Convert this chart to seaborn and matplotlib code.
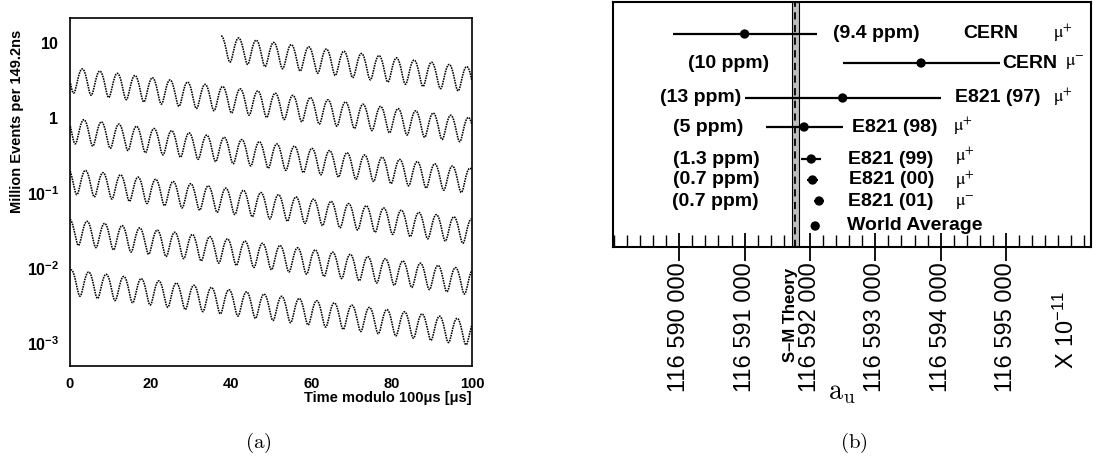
import matplotlib
matplotlib.use("Agg")
import matplotlib.pyplot as plt
import matplotlib.ticker as mticker
import numpy as np
import pandas as pd
import seaborn as sns

# (a) wiggle fit parameters
wiggle_n0 = 16.3          # million events per bin at t = 0
wiggle_tau = 64.4         # dilated muon lifetime [us]
wiggle_asym = 0.37
wiggle_period = 4.365     # g-2 precession period [us]
wiggle_first_peak = 37.6  # first plotted point sits on a peak [us]
t_stop = 600.0
bin_width = 0.1492        # 149.2 ns

ytick_vals = [10, 1, 0.1, 0.01, 0.001]
ytick_labels = [r"$\mathbf{10}$", r"$\mathbf{1}$", r"$\mathbf{10^{-1}}$",
                r"$\mathbf{10^{-2}}$", r"$\mathbf{10^{-3}}$"]
xtick_vals = [0, 20, 40, 60, 80, 100]

# (b) a_mu measurements (units of 1e-11)
experiments = ["CERN", "CERN", "E821 (97)", "E821 (98)", "E821 (99)",
               "E821 (00)", "E821 (01)", "World Average"]
charges = ["+", "\u2212", "+", "+", "+", "+", "\u2212", None]
a_mu = [116591000, 116593700, 116592500, 116591910, 116592020,
        116592040, 116592140, 116592080]
a_mu_err = [1100, 1200, 1500, 590, 150, 80, 80, 60]
precision = ["(9.4 ppm)", "(10 ppm)", "(13 ppm)", "(5 ppm)", "(1.3 ppm)",
             "(0.7 ppm)", "(0.7 ppm)", None]
sm_theory = 116591778
sm_theory_err = 58
amu_ticks = [116590000, 116591000, 116592000, 116593000, 116594000, 116595000]

# layout of panel (b) rows / labels (pixels from the top of the box, data x)
row_y = [32, 61, 96, 125, 157, 178, 199, 224]
charge_y = [32, 61, 96, 125, 155, 179, 201, None]
precision_x = [116592347, 116590135, 116589706, 116589905, 116589905,
               116589905, 116589890, None]
name_x = [116594339, 116594936, 116594217, 116592638, 116592581,
          116592596, 116592581, 116592561]
charge_x = [116595720, 116595899, 116595720, 116594192, 116594217,
            116594217, 116594217, None]

sns.set_style("white")
plt.rcParams["font.family"] = ["Liberation Sans", "DejaVu Sans"]
plt.rcParams["mathtext.fontset"] = "custom"
plt.rcParams["mathtext.rm"] = "Liberation Sans"
plt.rcParams["mathtext.bf"] = "Liberation Sans:bold"
plt.rcParams["mathtext.it"] = "Liberation Sans:italic"
for key in ["text.color", "axes.labelcolor", "xtick.color", "ytick.color",
            "axes.edgecolor"]:
    plt.rcParams[key] = "black"

fig = plt.figure(figsize=(10.93, 4.63), dpi=100)
W, H = 1093, 463
ax1 = fig.add_axes([70 / W, 1 - 366 / H, 402 / W, 348 / H])
ax2 = fig.add_axes([613 / W, 1 - 247 / H, 478 / W, 245 / H])

# ---- (a) wiggle plot, wrapped modulo 100 us
t = np.arange(wiggle_first_peak, t_stop, bin_width)
events = wiggle_n0 * np.exp(-t / wiggle_tau) * (
    1 + wiggle_asym * np.cos(2 * np.pi * (t - wiggle_first_peak) / wiggle_period))
df = pd.DataFrame({"row": (t // 100).astype(int), "t_mod": t % 100, "events": events})
sns.lineplot(data=df, x="t_mod", y="events", units="row", estimator=None,
             sort=False, color="black", linestyle=(0, (1, 0.6)), linewidth=1.15,
             ax=ax1, legend=False)
ax1.set_yscale("log")
ax1.set_xlim(0, 100)
ax1.set_ylim(4.93e-4, 21.5)
ax1.yaxis.set_minor_locator(mticker.NullLocator())
ax1.set_yticks(ytick_vals)
ax1.set_yticklabels(ytick_labels)
ax1.set_xticks(xtick_vals)
ax1.set_xticklabels([str(v) for v in xtick_vals], fontweight="bold")
ax1.tick_params(axis="both", length=0)
ax1.tick_params(axis="y", pad=8, labelsize=11.5)
ax1.tick_params(axis="x", pad=8, labelsize=10.5)
ax1.set_xlabel("Time modulo 100\u03bcs [\u03bcs]", fontweight="bold",
               fontsize=10.5, loc="right", labelpad=0)
ax1.set_ylabel("")
for sp in ax1.spines.values():
    sp.set_linewidth(1.2)
fig.text(17 / W, 1 - 121 / H, "Million Events per 149.2ns", rotation=90,
         ha="center", va="center", fontweight="bold", fontsize=10.5)

# ---- (b) a_mu comparison
ax2.axvspan(sm_theory - sm_theory_err, sm_theory + sm_theory_err,
            facecolor="#bdbdbd", edgecolor="black", linewidth=0.8, zorder=1)
ax2.axvline(sm_theory, color="black", linestyle=(0, (4, 3)), linewidth=1.3, zorder=2)
lo = [a - e for a, e in zip(a_mu, a_mu_err)]
hi = [a + e for a, e in zip(a_mu, a_mu_err)]
ax2.hlines(row_y, lo, hi, color="black", linewidth=1.6, zorder=3)
sns.scatterplot(x=a_mu, y=row_y, color="black", s=45, edgecolor="none",
                ax=ax2, zorder=4, legend=False)

for i in range(len(experiments)):
    y = row_y[i]
    if precision[i]:
        ax2.text(precision_x[i], y, precision[i], fontsize=14, fontweight="bold",
                 ha="left", va="center")
    ax2.text(name_x[i], y, experiments[i], fontsize=14, fontweight="bold",
             ha="left", va="center")
    if charges[i]:
        ax2.text(charge_x[i], charge_y[i], r"$\mathrm{\mu}^{%s}$" % charges[i],
                 fontsize=13, ha="left", va="center", math_fontfamily="stix")

ax2.set_xlim(116588986, 116596300)
ax2.set_ylim(245, 0)
ax2.set_yticks([])
ax2.xaxis.set_major_locator(mticker.FixedLocator(amu_ticks))
ax2.xaxis.set_minor_locator(mticker.MultipleLocator(200))
ax2.xaxis.set_major_formatter(mticker.FuncFormatter(
    lambda v, p: f"{v:,.0f}".replace(",", " ")))
ax2.tick_params(axis="x", which="major", direction="inout", length=20, width=1.3,
                labelsize=17, labelrotation=90, pad=1, bottom=True)
ax2.tick_params(axis="x", which="minor", direction="in", length=8.6, width=1,
                bottom=True)
for lab in ax2.get_xticklabels():
    lab.set_va("top")
for sp in ax2.spines.values():
    sp.set_linewidth(1.5)
ax2.set_xlabel("")
ax2.set_ylabel("")

fig.text(790 / W, 1 - 315 / H, "S\u2013M Theory", rotation=90, ha="center",
         va="center", fontweight="bold", fontsize=12)
fig.text(828 / W, 1 - 399 / H, r"$\mathrm{a}_{\mathrm{u}}$", ha="left",
         va="baseline", fontsize=20, math_fontfamily="cm")
fig.text(1066 / W, 1 - 330 / H, r"X $\mathrm{10^{-11}}$", rotation=90,
         ha="center", va="center", fontsize=17)

fig.text(258 / W, 1 - 443 / H, r"$\mathrm{(a)}$", ha="center", va="center",
         fontsize=15, math_fontfamily="cm")
fig.text(854 / W, 1 - 443 / H, r"$\mathrm{(b)}$", ha="center", va="center",
         fontsize=15, math_fontfamily="cm")

fig.savefig("out.png", dpi=100)
